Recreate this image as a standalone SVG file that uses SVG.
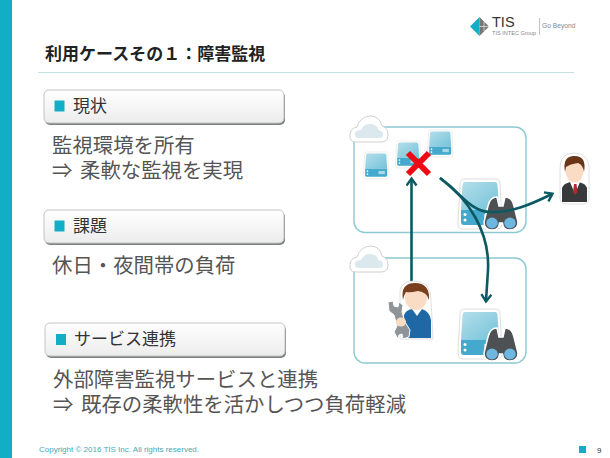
<svg xmlns="http://www.w3.org/2000/svg" width="610" height="458" viewBox="0 0 610 458">
<style>
text{font-family:"Noto Sans CJK JP","Noto Sans",sans-serif}
.latin{font-family:"Liberation Sans",sans-serif}
.body{font-size:20.4px;fill:#555}
.lab{font-size:17px;fill:#333}
.box{fill:url(#boxg);stroke:#c4c4c4;stroke-width:1}
.shade{fill:#7d8080}
.sq{fill:#12aec6}
.panel{fill:#fff;stroke:#8cc9d1;stroke-width:1.4}
.conn{fill:none;stroke:#0b5a63;stroke-width:2.6}
</style>
<defs>
<linearGradient id="boxg" x1="0" y1="0" x2="0" y2="1"><stop offset="0" stop-color="#fff"/><stop offset="1" stop-color="#ececec"/></linearGradient>
<linearGradient id="srv" x1="0" y1="0" x2="1" y2="1"><stop offset="0" stop-color="#b4dfea"/><stop offset="1" stop-color="#74c2da"/></linearGradient>
<marker id="arr" markerWidth="12" markerHeight="12" refX="9" refY="6" orient="auto" markerUnits="userSpaceOnUse"><path d="M2.500 1 L9.500 6 L2.500 11" fill="none" stroke="#0b5a63" stroke-width="2.400"/></marker>
<g id="server">
<path d="M5 0 H37 Q41 0 41 5 L43 44 Q43 50 38 50 H4 Q-1 50 -1 44 L1 5 Q1 0 5 0Z" fill="#fff" stroke="#dedede"/>
<path d="M6 3 H36 Q38 3 38.500 6 L40 31 H2 L3.500 6 Q4 3 6 3Z" fill="url(#srv)"/>
<path d="M2 31 H40 V43 Q40 46 37 46 H5 Q2 46 2 43Z" fill="#44a9cc"/>
<circle cx="6" cy="35.500" r="1.500" fill="#fff"/><circle cx="6" cy="41" r="1.500" fill="#fff"/>
<rect x="25" y="35" width="11" height="6" fill="#a8d8e6"/>
</g>
<g id="cloud">
<path d="M6 27 Q-1 27 0 19 Q1 13 7 12 Q10 2 20 1 Q30 1 32 11 Q38 13 38 20 Q38 27 31 27Z" fill="#fff" stroke="#d0d0d0" stroke-width="1"/>
<path d="M9 23 Q4 23 5 18 Q6 15 11 15 Q14 8 21 9 Q28 10 28 15 Q34 16 33 20 Q33 23 29 23Z" fill="#dbe9ee"/>
</g>
<g id="bino">
<path d="M4 9 Q6 0 13 0 L15 9 H19 L21 0 Q28 0 30 9 L34 25 Q34 33 26 33 Q19 33 18.500 26 H15.500 Q15 33 8 33 Q0 33 0 25Z" fill="#4d5154" stroke="#fff" stroke-width="1.500"/>
<ellipse cx="8" cy="26" rx="5.800" ry="5.400" fill="#6db7e0"/>
<ellipse cx="26" cy="26" rx="5.800" ry="5.400" fill="#6db7e0"/>
</g>
</defs>
<rect width="610" height="458" fill="#fff"/>
<rect id="sidebar" x="0" y="0" width="12" height="458" fill="#12aec6"/>
<text x="45" y="60" font-size="17" font-weight="700" fill="#222">利用ケースその１：障害監視</text>
<rect x="38" y="72" width="536" height="1" fill="#c6e0e0"/>
<g id="logo">
<path d="M470 26.500 L479.500 17 V36Z" fill="#12aec6"/><path d="M479.500 17 L489 26.500 L479.500 36Z" fill="#777"/>
<path d="M479.500 26.500 H489 M484 22 V31" stroke="#fff" stroke-width=".6" fill="none"/>
<text class="latin" x="492" y="27" font-size="14.500" fill="#333">TIS</text>
<text class="latin" x="492" y="35" font-size="5.600" fill="#888">TIS INTEC Group</text>
<rect x="539" y="18" width="0.700" height="17" fill="#aaa"/>
<text class="latin" x="542" y="28" font-size="6.700" fill="#888">Go Beyond</text>
</g>

<g id="status-box">
<rect class="shade" x="45" y="92" width="240" height="33" rx="5"/>
<rect class="box" x="44" y="90" width="240" height="33" rx="5"/>
<rect class="sq" x="54.500" y="100.500" width="10" height="11"/>
<text class="lab" x="73" y="112">現状</text>
</g>
<text class="body" y="153"><tspan x="52">監視環境を所有</tspan><tspan x="52" y="178">⇒</tspan><tspan x="80" y="178">柔軟な監視を実現</tspan></text>

<g id="issue-box">
<rect class="shade" x="45" y="212" width="240" height="33" rx="5"/>
<rect class="box" x="44" y="210" width="240" height="33" rx="5"/>
<rect class="sq" x="54.500" y="220.500" width="10" height="11"/>
<text class="lab" x="73" y="232">課題</text>
</g>
<text class="body" x="52" y="273">休日・夜間帯の負荷</text>

<g id="service-box">
<rect class="shade" x="46" y="325" width="240" height="33" rx="5"/>
<rect class="box" x="45" y="323" width="240" height="33" rx="5"/>
<rect class="sq" x="56" y="334" width="10" height="11"/>
<text class="lab" x="74" y="345">サービス連携</text>
</g>
<text class="body" y="387"><tspan x="53">外部障害監視サービスと連携</tspan><tspan x="53" y="412">⇒</tspan><tspan x="81" y="412">既存の柔軟性を活かしつつ負荷軽減</tspan></text>

<g id="env-upper">
<rect class="panel" x="354" y="127" width="172" height="105.500" rx="11"/>
<use href="#cloud" x="350" y="115"/>
<use href="#server" transform="translate(364 152) scale(.58 .54)"/>
<use href="#server" transform="translate(396 141) scale(.58 .54)"/>
<use href="#server" transform="translate(428 130) scale(.58 .54)"/>
<use href="#server" transform="translate(459 179)"/>
</g>
<g id="env-lower">
<rect class="panel" x="354" y="258" width="172" height="105" rx="11"/>
<use href="#cloud" x="350" y="245"/>
<use href="#server" transform="translate(459 309)"/>
</g>

<g id="binoculars-upper"><use href="#bino" x="484" y="197"/></g>
<g id="binoculars-lower"><use href="#bino" x="484" y="328"/></g>

<g id="connectors">
<path class="conn" d="M411.500 284 V179" marker-end="url(#arr)"/>
<path class="conn" d="M440 178 C468 198 490 232 488 270 Q487 285 486 301" marker-end="url(#arr)"/>
<path class="conn" d="M440 178 C462 195 472 212 490 212 C510 213 530 205 552 194" marker-end="url(#arr)"/>
</g>

<g id="failure-mark" stroke="#ee0a14" stroke-width="6">
<path d="M408 153 L429 174 M429 153 L408 174" fill="none"/>
</g>

<g id="operator">
<path d="M568 154 Q560 157 560 168 V198 Q560 204 566 204 H583 Q589 204 589 198 V168 Q589 157 580 154 Q574 152 568 154Z" fill="#fff" stroke="#e0e0e0"/>
<path d="M562 188 Q563 184 570 182 H579 Q586 184 587 188 V202 H562Z" fill="#37393b"/>
<path d="M570 182 H580 L575 194Z" fill="#fff"/>
<path d="M574 184 H576.500 L577.500 192 L575.200 195 L573 192Z" fill="#b02a30"/>
<ellipse cx="574.500" cy="171" rx="9" ry="11.500" fill="#fadcc4"/>
<path d="M565 172 Q562 156 574.500 156 Q587 156 584 172 Q583 165 578 163 Q570 164 566 167Z" fill="#6b3518"/>
</g>

<g id="engineer">
<path d="M400 296 Q398 281 414 281 Q431 281 431 300 L433 339 H400Z" fill="#fff" stroke="#e0e0e0"/>
<path d="M404 315 Q406 310 412 309 H422 Q430 312 431 320 V338 H402Z" fill="#1f68a6"/>
<path d="M412 309 H422 L417 316Z" fill="#fff"/>
<ellipse cx="416" cy="298" rx="11" ry="12" fill="#fadcc4"/>
<path d="M403 300 Q400 283 415 283 Q430 283 429 300 Q427 292 418 291 Q410 293 406 292 Q404 295 403 300Z" fill="#7a3f1c"/>
<path d="M388 302 L393 301 L394 306 L398 307 L399 302 L403 305 L402 312 L405 322 L410 330 L409 337 L403 339 L402 334 L399 335 L398 339 L394 332 L397 326 L394 315 L389 311Z" fill="#8f9499" stroke="#fff"/>
<ellipse cx="401" cy="322" rx="5" ry="4.500" fill="#fadcc4"/>
</g>

<text class="latin" x="39" y="451.500" font-size="8" fill="#3fa9b8">Copyright © 2016 TIS Inc. All rights reserved.</text>
<rect class="sq" x="579" y="446" width="7" height="7"/>
<text class="latin" x="597" y="453" font-size="8" fill="#333">9</text>
</svg>
